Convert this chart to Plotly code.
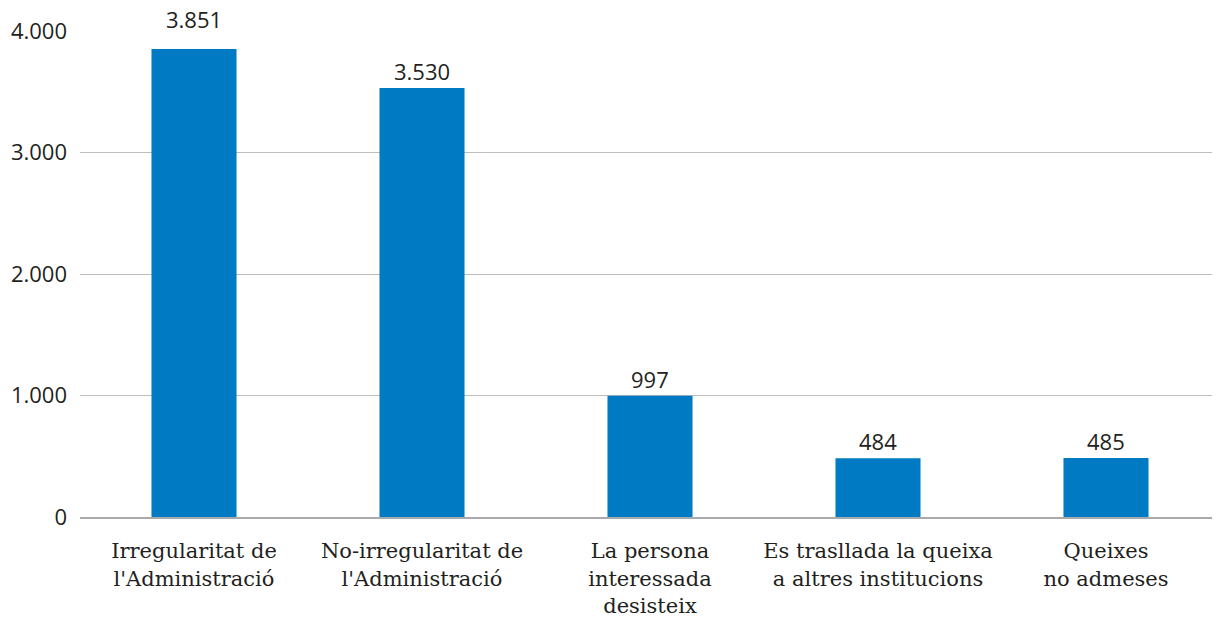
import plotly.graph_objects as go

categories = [
    "Irregularitat de<br>l'Administració",
    "No-irregularitat de<br>l'Administració",
    "La persona<br>interessada<br>desisteix",
    "Es trasllada la queixa<br>a altres institucions",
    "Queixes<br>no admeses",
]
values = [3851, 3530, 997, 484, 485]
value_labels = ["3.851", "3.530", "997", "484", "485"]
tick_vals = [0, 1000, 2000, 3000, 4000]
tick_text = ["0", "1.000", "2.000", "3.000", "4.000"]

# label vertical offsets (px) as in the reference
label_shift = [13, 0, 0, 0, 0]

fig = go.Figure(
    go.Bar(
        x=categories,
        y=values,
        marker=dict(color="#007AC2", line=dict(width=0)),
        cliponaxis=False,
        hoverinfo="x+y",
    )
)

for cat, val, lab, sh in zip(categories, values, value_labels, label_shift):
    fig.add_annotation(
        x=cat,
        y=val,
        text=lab,
        showarrow=False,
        yanchor="bottom",
        yshift=sh,
        font=dict(family="Open Sans", size=22, color="#231F20"),
    )

fig.update_layout(
    width=1212,
    height=611,
    margin=dict(l=72, r=0, t=23, b=102),
    plot_bgcolor="white",
    paper_bgcolor="white",
    bargap=0.627,
    showlegend=False,
    font=dict(family="Open Sans", size=22, color="#231F20"),
)
fig.update_yaxes(
    range=[0, 4000],
    tickvals=tick_vals,
    ticktext=tick_text,
    showgrid=True,
    gridcolor="#BDBDBD",
    gridwidth=1,
    zeroline=False,
    showline=False,
    ticks="",
    ticklabelstandoff=12,
    tickfont=dict(family="Open Sans", size=22, color="#231F20"),
)
fig.update_xaxes(
    showline=True,
    linecolor="#A8A8AD",
    linewidth=2,
    ticks="",
    tickfont=dict(family="DejaVu Serif", size=21, color="#231F20"),
    ticklabelstandoff=14,
)

fig.write_html("out.html")
